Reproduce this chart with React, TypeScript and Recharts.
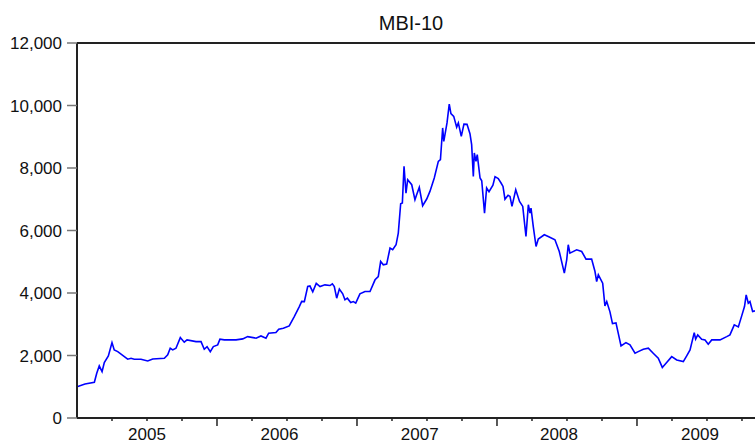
import React from 'react';
import { LineChart, Line, XAxis, YAxis, ReferenceLine } from 'recharts';

// MBI-10 index (decimal year, index level)
const years = [
    2005.0, 2005.057, 2005.124, 2005.141, 2005.159, 2005.179, 2005.195, 2005.224, 2005.25, 2005.266,
    2005.291, 2005.362, 2005.386, 2005.409, 2005.457, 2005.505, 2005.541, 2005.624, 2005.648, 2005.666,
    2005.684, 2005.707, 2005.738, 2005.766, 2005.786, 2005.85, 2005.886, 2005.909, 2005.929, 2005.952,
    2005.974, 2006.005, 2006.021, 2006.052, 2006.136, 2006.184, 2006.219, 2006.279, 2006.314, 2006.35,
    2006.369, 2006.421, 2006.441, 2006.474, 2006.516, 2006.552, 2006.588, 2006.605, 2006.624, 2006.648,
    2006.664, 2006.684, 2006.709, 2006.736, 2006.771, 2006.807, 2006.824, 2006.838, 2006.855, 2006.874,
    2006.898, 2006.914, 2006.931, 2006.955, 2006.974, 2006.991, 2007.021, 2007.057, 2007.093, 2007.129,
    2007.152, 2007.169, 2007.188, 2007.212, 2007.236, 2007.255, 2007.279, 2007.295, 2007.312, 2007.324,
    2007.336, 2007.35, 2007.362, 2007.391, 2007.414, 2007.426, 2007.445, 2007.469, 2007.498, 2007.521,
    2007.552, 2007.581, 2007.596, 2007.612, 2007.62, 2007.643, 2007.659, 2007.671, 2007.691, 2007.712,
    2007.724, 2007.745, 2007.764, 2007.786, 2007.807, 2007.819, 2007.831, 2007.838, 2007.85, 2007.859,
    2007.879, 2007.891, 2007.911, 2007.926, 2007.943, 2007.971, 2007.986, 2008.009, 2008.029, 2008.043,
    2008.057, 2008.079, 2008.093, 2008.107, 2008.134, 2008.161, 2008.184, 2008.207, 2008.224, 2008.236,
    2008.243, 2008.259, 2008.279, 2008.295, 2008.338, 2008.366, 2008.414, 2008.445, 2008.481, 2008.498,
    2008.509, 2008.521, 2008.569, 2008.605, 2008.636, 2008.676, 2008.7, 2008.712, 2008.724, 2008.755,
    2008.771, 2008.784, 2008.807, 2008.825, 2008.85, 2008.866, 2008.886, 2008.921, 2008.95, 2008.986,
    2009.009, 2009.045, 2009.081, 2009.116, 2009.152, 2009.181, 2009.212, 2009.248, 2009.284, 2009.331,
    2009.355, 2009.379, 2009.409, 2009.419, 2009.434, 2009.462, 2009.486, 2009.509, 2009.534, 2009.593,
    2009.641, 2009.664, 2009.695, 2009.724, 2009.748, 2009.768, 2009.78, 2009.795, 2009.807, 2009.826,
    2009.843
];

const mbi10 = [
    1000, 1090, 1144, 1432, 1666, 1483, 1772, 1986, 2413, 2179,
    2124, 1881, 1913, 1881, 1881, 1826, 1890, 1913, 2019, 2233,
    2179, 2233, 2573, 2425, 2499, 2445, 2445, 2201, 2284, 2124,
    2284, 2339, 2522, 2499, 2499, 2531, 2605, 2554, 2627, 2554,
    2714, 2733, 2842, 2874, 2948, 3246, 3566, 3733, 3726, 4207,
    4223, 4037, 4309, 4207, 4261, 4239, 4293, 4207, 3835, 4124,
    3973, 3781, 3835, 3694, 3726, 3675, 3973, 4047, 4047, 4422,
    4527, 5008, 4902, 4925, 5437, 5383, 5543, 5918, 6857, 6879,
    8052, 7193, 7626, 7465, 6985, 7145, 7379, 6792, 7007, 7251,
    7680, 8212, 8266, 9282, 8853, 9442, 10045, 9740, 9654, 9308,
    9442, 9013, 9404, 9397, 9099, 8747, 7731, 8481, 8212, 8427,
    7680, 7593, 6558, 7360, 7241, 7449, 7722, 7658, 7520, 7411,
    7001, 7129, 7090, 6770, 7305, 6930, 6770, 5809, 6825, 6558,
    6719, 6129, 5488, 5726, 5863, 5809, 5703, 5328, 4636, 5062,
    5543, 5277, 5383, 5328, 5085, 5085, 4687, 4367, 4582, 4316,
    3588, 3726, 3396, 3021, 3044, 2714, 2307, 2413, 2339, 2073,
    2124, 2201, 2233, 2073, 1913, 1618, 1778, 1964, 1858, 1804,
    1986, 2179, 2733, 2522, 2659, 2522, 2499, 2361, 2499, 2499,
    2605, 2659, 2980, 2916, 3268, 3566, 3941, 3675, 3726, 3406,
    3428
];

const yTicks = [0, 2000, 4000, 6000, 8000, 10000, 12000];
const quarterTicks = [
    2005.25, 2005.5, 2005.75, 2006, 2006.25, 2006.5, 2006.75, 2007, 2007.25, 2007.5, 2007.75,
    2008, 2008.25, 2008.5, 2008.75, 2009, 2009.25, 2009.5, 2009.75
];
const yearLabelTicks = [2005.5, 2006.446, 2007.448, 2008.443, 2009.45];
const xDomain: [number, number] = [2005, 2009.843];

const FONT = '"Liberation Sans", Arial, sans-serif';

const data = years.map((t, i) => ({ t, v: mbi10[i] }));
const allXTicks = Array.from(new Set([...quarterTicks, ...yearLabelTicks])).sort((a, b) => a - b);

// one axis draws both: short quarter marks (longer at year starts) and the year labels
const TimeTick = ({ x, y, payload }: any) => {
    const v = payload.value;
    const isQuarter = quarterTicks.includes(v);
    const isLabel = yearLabelTicks.includes(v);
    return (
        <g>
            {isQuarter && (
                <line x1={x} x2={x} y1={y} y2={y + (Number.isInteger(v) ? 8 : 3)} stroke="#222" strokeWidth={1.5} />
            )}
            {isLabel && (
                <text x={x} y={y + 22} textAnchor="middle" fontSize={17} fontFamily={FONT} fill="#111">
                    {Math.floor(v)}
                </text>
            )}
        </g>
    );
};

export default function App() {
    return (
        <div style={{ position: 'fixed', left: 0, top: 0, width: 755, height: 444, background: '#fff' }}>
            <LineChart
                width={755}
                height={444}
                data={data}
                margin={{ top: 43, right: 0, bottom: 0, left: 0 }}
                style={{ fontFamily: FONT }}
            >
                <XAxis
                    dataKey="t"
                    type="number"
                    domain={xDomain}
                    allowDataOverflow
                    ticks={allXTicks}
                    tick={<TimeTick />}
                    tickLine={false}
                    tickSize={0}
                    tickMargin={0}
                    height={26}
                    axisLine={{ stroke: '#222', strokeWidth: 2 }}
                    interval={0}
                />
                <YAxis
                    domain={[0, 12000]}
                    ticks={yTicks}
                    width={77}
                    interval={0}
                    tickFormatter={(v: number) => v.toLocaleString('en-US')}
                    tick={{ fill: '#111', fontSize: 17, fontFamily: FONT }}
                    tickSize={10}
                    tickMargin={5}
                    tickLine={{ stroke: '#777', strokeWidth: 1.5 }}
                    axisLine={{ stroke: '#222', strokeWidth: 2 }}
                />
                <ReferenceLine y={12000} stroke="#222" strokeWidth={2} />
                <Line
                    type="linear"
                    dataKey="v"
                    stroke="#0000ff"
                    strokeWidth={1.6}
                    dot={false}
                    isAnimationActive={false}
                />
            </LineChart>
            <svg width={755} height={444} style={{ position: 'absolute', left: 0, top: 0, pointerEvents: 'none' }}>
                <text x={411} y={30} textAnchor="middle" fontSize={20} fontFamily={FONT} fill="#111">
                    MBI-10
                </text>
            </svg>
        </div>
    );
}
